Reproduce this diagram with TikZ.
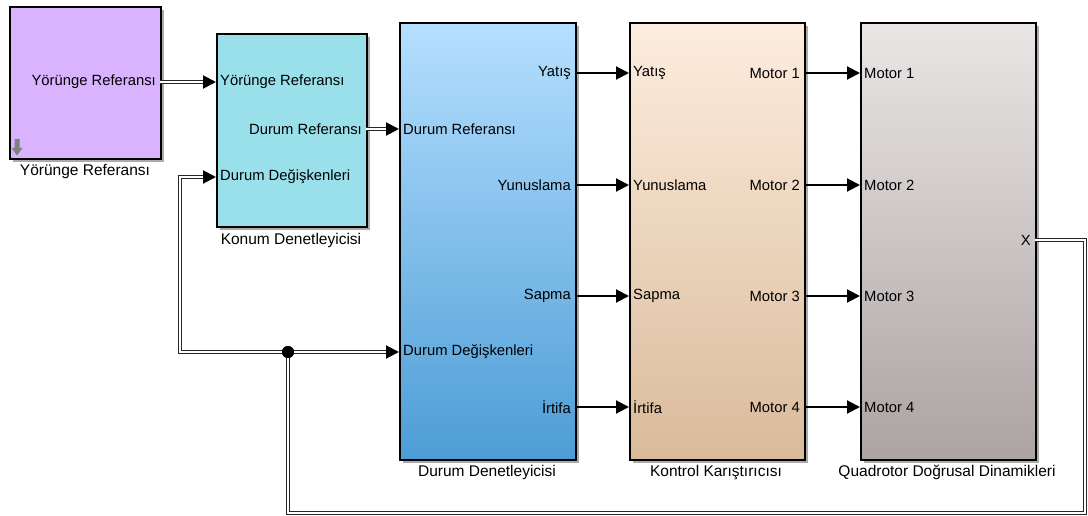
\documentclass[tikz,border=0pt]{standalone}
\usepackage{fontspec}
\setmainfont{Liberation Sans}
\usetikzlibrary{arrows.meta,shadows}

\definecolor{trajfill}{RGB}{217,179,255}
\definecolor{posfill}{RGB}{153,224,234}
\definecolor{atttop}{RGB}{181,223,255}
\definecolor{attbot}{RGB}{77,157,214}
\definecolor{mixtop}{RGB}{253,237,222}
\definecolor{mixbot}{RGB}{217,187,154}
\definecolor{dyntop}{RGB}{234,230,230}
\definecolor{dynbot}{RGB}{172,163,163}

\tikzset{
  block/.style={draw=black, line width=1.6pt, anchor=north west, inner sep=0pt,
    drop shadow={shadow xshift=3pt, shadow yshift=-3pt, fill=black!55, opacity=0.6}},
  blocklabel/.style={font=\fontsize{15.5}{17}\selectfont, anchor=north, inner sep=0pt},
  portin/.style={font=\fontsize{14.8}{16}\selectfont, anchor=west, inner sep=0pt, xshift=4pt},
  portout/.style={font=\fontsize{14.8}{16}\selectfont, anchor=east, inner sep=0pt, xshift=-4pt},
  sig/.style={draw=black, line width=2pt, -{Triangle[length=13pt,width=13pt]}},
  bus/.style={draw=black!85, line width=1.3pt, double=white, double distance=1.5pt, line join=miter},
  junction/.style={circle, fill=black, minimum size=12pt, inner sep=0pt}
}

\begin{document}
\begin{tikzpicture}[x=1pt,y=-1pt]
\useasboundingbox (0,0) rectangle (1088,516);

% blocks
\node[block, fill=trajfill, minimum width=151pt, minimum height=152pt] (traj) at (9,6) {};
\node[block, fill=posfill, minimum width=150pt, minimum height=193pt] (pos) at (216,33) {};
\node[block, top color=atttop, bottom color=attbot, minimum width=176pt, minimum height=437pt] (att) at (399,22) {};
\node[block, top color=mixtop, bottom color=mixbot, minimum width=175pt, minimum height=437pt] (mix) at (629,22) {};
\node[block, top color=dyntop, bottom color=dynbot, minimum width=175pt, minimum height=437pt] (dyn) at (860,22) {};

% block names
\node[blocklabel] (trajname) at (85,164) {Yörünge Referansı};
\node[blocklabel] (posname) at (291,233) {Konum Denetleyicisi};
\node[blocklabel] (attname) at (487,465) {Durum Denetleyicisi};
\node[blocklabel] (mixname) at (716,465) {Kontrol Karıştırıcısı};
\node[blocklabel] (dynname) at (947,465) {Quadrotor Doğrusal Dinamikleri};

% source icon
\fill[black!50] (14.5,139) -- (19.5,139) -- (19.5,148) -- (22.5,148) -- (17,155.5) -- (11.5,148) -- (14.5,148) -- cycle;

% port coordinates
\coordinate (traj-o) at (160,82);
\coordinate (pos-i1) at (216,82);
\coordinate (pos-i2) at (216,177);
\coordinate (pos-o) at (366,129);
\coordinate (att-i1) at (399,129);
\coordinate (att-i2) at (399,352);
\foreach \n/\y in {1/73,2/185,3/296,4/407}{
  \coordinate (att-o\n) at (575,\y);
  \coordinate (mix-i\n) at (629,\y);
  \coordinate (mix-o\n) at (804,\y);
  \coordinate (dyn-i\n) at (860,\y);
}
\coordinate (dyn-o) at (1035,240);

% port labels
\node[portout] (l-traj-o) at (traj-o) {Yörünge Referansı};
\node[portin] (l-pos-i1) at (pos-i1) {Yörünge Referansı};
\node[portin] (l-pos-i2) at (pos-i2) {Durum Değişkenleri};
\node[portout] (l-pos-o) at (pos-o) {Durum Referansı};
\node[portin] (l-att-i1) at (att-i1) {Durum Referansı};
\node[portin] (l-att-i2) at (att-i2) {Durum Değişkenleri};
\node[portout] (l-att-o1) at (att-o1) {Yatış};
\node[portout] (l-att-o2) at (att-o2) {Yunuslama};
\node[portout] (l-att-o3) at (att-o3) {Sapma};
\node[portout] (l-att-o4) at (att-o4) {İrtifa};
\node[portin] (l-mix-i1) at (mix-i1) {Yatış};
\node[portin] (l-mix-i2) at (mix-i2) {Yunuslama};
\node[portin] (l-mix-i3) at (mix-i3) {Sapma};
\node[portin] (l-mix-i4) at (mix-i4) {İrtifa};
\foreach \n in {1,...,4}{
  \node[portout] (l-mix-o\n) at (mix-o\n) {Motor \n};
  \node[portin] (l-dyn-i\n) at (dyn-i\n) {Motor \n};
}
\node[portout] (l-dyn-o) at (dyn-o) {X};

% scalar signals
\foreach \n in {1,...,4}{
  \draw[sig] (att-o\n) -- (mix-i\n);
  \draw[sig] (mix-o\n) -- (dyn-i\n);
}

% bus signals
\draw[bus] (traj-o) -- ([xshift=-12pt]pos-i1);
\draw[sig] ([xshift=-13pt]pos-i1) -- (pos-i1);
\draw[bus] (pos-o) -- ([xshift=-12pt]att-i1);
\draw[sig] ([xshift=-13pt]att-i1) -- (att-i1);

% state feedback
\node[junction] (jn) at (288,352) {};
\coordinate (fb1) at (1085,240);
\coordinate (fb2) at (1085,513);
\coordinate (fb3) at (288,513);
\coordinate (fb4) at (180,352);
\coordinate (fb5) at (180,177);
\draw[bus] (dyn-o) -- (fb1) -- (fb2) -- (fb3) -- (jn.center);
\draw[bus] (jn.center) -- (fb4) -- (fb5) -- ([xshift=-12pt]pos-i2);
\draw[sig] ([xshift=-13pt]pos-i2) -- (pos-i2);
\draw[bus] (jn.center) -- ([xshift=-12pt]att-i2);
\draw[sig] ([xshift=-13pt]att-i2) -- (att-i2);
\node[junction] (jndot) at (jn) {};
\end{tikzpicture}
\end{document}
